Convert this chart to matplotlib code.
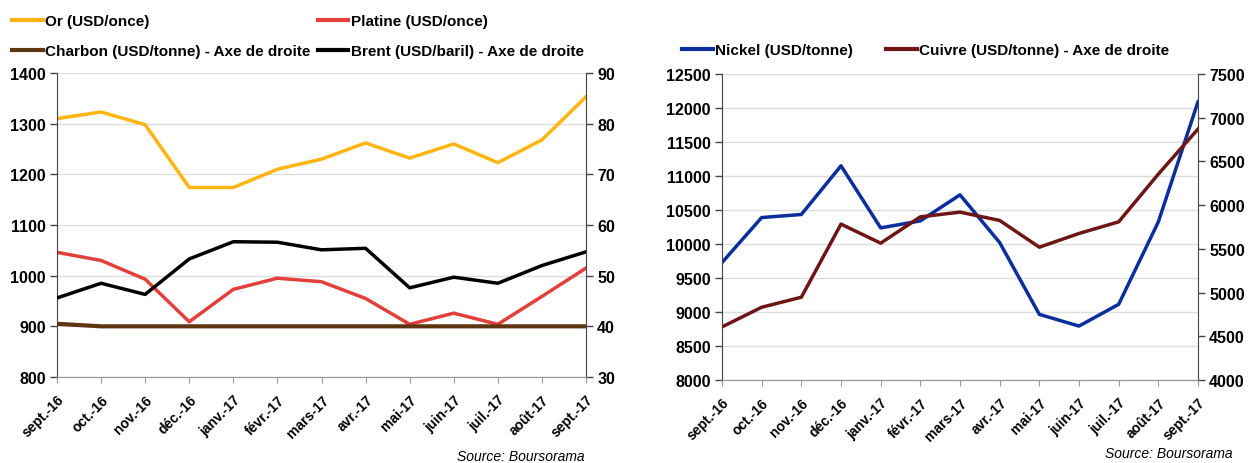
import matplotlib.pyplot as plt
from matplotlib.lines import Line2D

plt.rcParams['font.family'] = ['Liberation Sans', 'DejaVu Sans']

# =============================================================================
mois = ['sept.-16', 'oct.-16', 'nov.-16', 'déc.-16', 'janv.-17', 'févr.-17',
        'mars-17', 'avr.-17', 'mai-17', 'juin-17', 'juil.-17', 'août-17',
        'sept.-17']

# left chart
ors = [1310, 1323, 1298, 1174, 1174, 1210, 1230, 1262, 1232, 1260, 1223, 1268, 1353]
platine = [1046, 1030, 993, 909, 973, 995, 988, 955, 904, 926, 904, 959, 1015]
charbon = [40.5, 40, 40, 40, 40, 40, 40, 40, 40, 40, 40, 40, 40]
brent = [45.6, 48.5, 46.3, 53.3, 56.7, 56.6, 55.1, 55.4, 47.6, 49.7, 48.5, 52.0, 54.7]

# right chart
nickel = [9727, 10389, 10434, 11150, 10237, 10340, 10723, 10021, 8965, 8793,
          9113, 10325, 12092]
cuivre = [4607, 4832, 4947, 5783, 5565, 5866, 5920, 5825, 5519, 5676, 5809,
          6355, 6870]

# =============================================================================
c_or = '#FFB511'
c_pla = '#E2403A'
c_cha = '#5E3511'
c_bre = '#000000'
c_nic = '#0A2E9C'
c_cui = '#6E1616'
lw = 2.5
W, H = 1253, 464

fig = plt.figure(figsize=(W/100, H/100), dpi=100)


def make_ax(x0, x1, y0, y1):
    return fig.add_axes([x0/W, 1-y1/H, (x1-x0)/W, (y1-y0)/H])


def style(ax, ax2):
    x = range(len(mois))
    ax.set_xlim(0, len(mois)-1)
    ax.set_xticks(list(x))
    ax.set_xticklabels(mois, rotation=45, ha='right', rotation_mode='anchor',
                       fontsize=10, fontweight='bold')
    ax.grid(axis='y', color='#DDDDDD', lw=1)
    ax.set_axisbelow(True)
    for a in (ax, ax2):
        a.spines['top'].set_visible(False)
        a.spines['bottom'].set_color('#999999')
        a.spines['left'].set_color('#444444')
        a.spines['right'].set_color('#444444')
        a.tick_params(axis='y', labelsize=11.5, width=1, length=5,
                      color='#444444', pad=3)
        for t in a.get_yticklabels():
            t.set_fontweight('bold')
    ax.tick_params(axis='x', length=4, color='#999999', pad=7)
    ax2.spines['left'].set_visible(False)
    ax.spines['right'].set_visible(False)


leg_kw = dict(frameon=False, handlelength=2.0, handletextpad=0.15,
              borderpad=0, borderaxespad=0, prop={'size': 11, 'weight': 'bold'})

# ----- left chart ------------------------------------------------------------
ax1 = make_ax(57, 586, 74, 378)
ax1b = ax1.twinx()
x = list(range(len(mois)))
ax1.plot(x, ors, color=c_or, lw=lw)
ax1.plot(x, platine, color=c_pla, lw=lw)
ax1b.plot(x, charbon, color=c_cha, lw=lw+0.5)
ax1b.plot(x, brent, color=c_bre, lw=lw)
ax1.set_ylim(800, 1400)
ax1.set_yticks(range(800, 1401, 100))
ax1b.set_ylim(30, 90)
ax1b.set_yticks(range(30, 91, 10))
style(ax1, ax1b)

h = [Line2D([], [], color=c, lw=lw+0.5) for c in (c_or, c_cha, c_pla, c_bre)]
labs = ['Or (USD/once)', 'Charbon (USD/tonne) - Axe de droite',
        'Platine (USD/once)', 'Brent (USD/baril) - Axe de droite']
fig.legend(h, labs, ncol=2, loc='upper left', bbox_to_anchor=(12/W, 1-15/H),
           columnspacing=0.5, labelspacing=1.05, **leg_kw)

fig.text(585/W, 1-457/H, 'Source: Boursorama', ha='right', va='center',
         fontsize=10, style='italic')

# ----- right chart -----------------------------------------------------------
ax2 = make_ax(722, 1198, 75, 381)
ax2b = ax2.twinx()
ax2.plot(x, nickel, color=c_nic, lw=lw)
ax2b.plot(x, cuivre, color=c_cui, lw=lw)
ax2.set_ylim(8000, 12500)
ax2.set_yticks(range(8000, 12501, 500))
ax2b.set_ylim(4000, 7500)
ax2b.set_yticks(range(4000, 7501, 500))
style(ax2, ax2b)

h2 = [Line2D([], [], color=c, lw=lw+0.5) for c in (c_nic, c_cui)]
fig.legend(h2, ['Nickel (USD/tonne)', 'Cuivre (USD/tonne) - Axe de droite'],
           ncol=2, loc='upper left', bbox_to_anchor=(682/W, 1-44/H),
           columnspacing=2.2, **leg_kw)

fig.text(1233/W, 1-454/H, 'Source: Boursorama', ha='right', va='center',
         fontsize=10, style='italic')

fig.savefig('out.png', dpi=100)
